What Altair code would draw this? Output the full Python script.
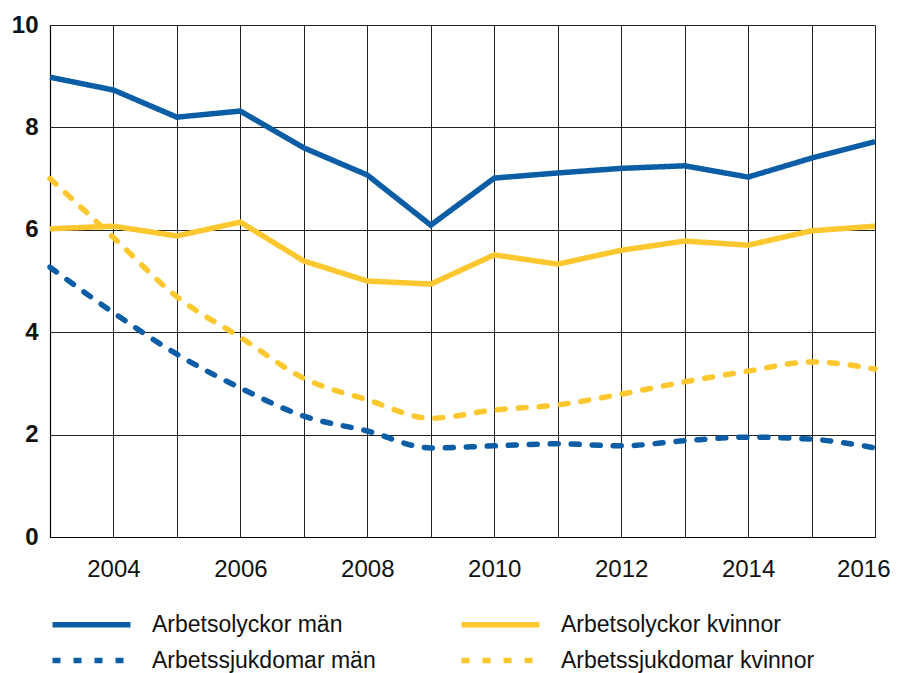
import altair as alt
import pandas as pd

years = list(range(2003, 2017))
olyckor_man = [8.98, 8.73, 8.20, 8.32, 7.60, 7.07, 6.09, 7.01, 7.11, 7.20, 7.25, 7.03, 7.40, 7.72]
olyckor_kvinnor = [6.02, 6.07, 5.88, 6.15, 5.39, 5.00, 4.94, 5.51, 5.33, 5.60, 5.78, 5.70, 5.98, 6.07]
sjuk_man = [5.27, 4.38, 3.57, 2.91, 2.36, 2.07, 1.74, 1.78, 1.82, 1.78, 1.88, 1.95, 1.91, 1.74]
sjuk_kvinnor = [7.00, 5.85, 4.69, 3.90, 3.10, 2.68, 2.32, 2.48, 2.58, 2.79, 3.03, 3.24, 3.42, 3.28]

# legend order (column-major fill): col 1 = män, col 2 = kvinnor
series = ["Arbetsolyckor män", "Arbetssjukdomar män", "Arbetsolyckor kvinnor", "Arbetssjukdomar kvinnor"]
colors = ["#0B5DA6", "#0B5DA6", "#FDC82F", "#FDC82F"]
dashes = [[1, 0], [8, 13], [1, 0], [8, 13]]

rows = []
for name, vals, kind in [
    ("Arbetsolyckor män", olyckor_man, "solid"),
    ("Arbetsolyckor kvinnor", olyckor_kvinnor, "solid"),
    ("Arbetssjukdomar män", sjuk_man, "dash"),
    ("Arbetssjukdomar kvinnor", sjuk_kvinnor, "dash"),
]:
    for y, v in zip(years, vals):
        rows.append({"year": y, "value": v, "serie": name, "kind": kind})
df = pd.DataFrame(rows)

x_enc = alt.X(
    "year:Q",
    scale=alt.Scale(domain=[2003, 2016], nice=False, zero=False),
    axis=alt.Axis(
        values=years,
        format="d",
        labelExpr="datum.value % 2 == 0 ? datum.label : ''",
        title=None,
        tickSize=0,
        labelPadding=20,
        labelFontSize=24,
        labelFont="Liberation Sans",
        labelColor="#111",
        labelFlush=True,
        labelFlushOffset=15,
        labelOverlap=False,
    ),
)
y_enc = alt.Y(
    "value:Q",
    scale=alt.Scale(domain=[0, 10], nice=False),
    axis=alt.Axis(
        values=[0, 2, 4, 6, 8, 10],
        title=None,
        tickSize=0,
        labelPadding=12,
        labelFontSize=24,
        labelFontWeight="bold",
        labelFont="Liberation Sans",
        labelColor="#111",
    ),
)

legend_opts = dict(
    title=None,
    orient="none",
    legendX=23,
    legendY=581,
    columns=2,
    symbolType="M-2.516,0H2.516",
    symbolSize=961,
    symbolStrokeWidth=5.5,
    labelFontSize=23,
    labelFont="Liberation Sans",
    labelColor="#111",
    labelOffset=42,
    labelLimit=400,
    columnPadding=74,
    rowPadding=5,
)

color_enc = alt.Color("serie:N", scale=alt.Scale(domain=series, range=colors), legend=alt.Legend(**legend_opts))
dash_enc = alt.StrokeDash("serie:N", scale=alt.Scale(domain=series, range=dashes), legend=alt.Legend(**legend_opts))

solid = alt.Chart(df).transform_filter(alt.datum.kind == "solid").mark_line(
    strokeWidth=5.5, interpolate="linear", strokeJoin="miter"
).encode(x=x_enc, y=y_enc, color=color_enc, strokeDash=dash_enc, detail="serie:N")

dashed = alt.Chart(df).transform_filter(alt.datum.kind == "dash").mark_line(
    strokeWidth=5.5, interpolate="monotone", strokeCap="round"
).encode(x=x_enc, y=y_enc, color=color_enc, strokeDash=dash_enc, detail="serie:N")

chart = (
    alt.layer(solid, dashed)
    .properties(
        width=825,
        height=512,
        autosize=alt.AutoSizeParams(type="none"),
        padding={"left": 42, "top": 17, "right": 15, "bottom": 150},
    )
    .configure_view(stroke=None)
    .configure_axis(
        gridColor="#222222",
        gridWidth=1,
        gridOpacity=1,
        domainColor="#000000",
        domainWidth=1.2,
    )
)

chart.save("out.html", embed_options={"renderer": "svg", "actions": False})
